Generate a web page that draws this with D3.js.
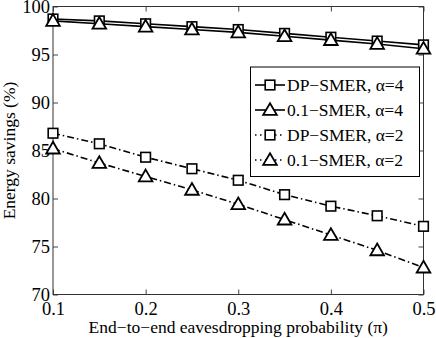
<!DOCTYPE html>
<html>
<head>
<meta charset="utf-8">
<script src="https://cdn.jsdelivr.net/npm/d3@7"></script>
<style>
  body { margin: 0; background: #fff; }
  text { font-family: "Liberation Serif", "Times New Roman", serif; fill: #000; }
</style>
</head>
<body>
<div id="chart-area"></div>
<script>
// eavesdropping probability values
const probs = [0.1, 0.15, 0.2, 0.25, 0.3, 0.35, 0.4, 0.45, 0.5];
const xTicks = [0.1, 0.2, 0.3, 0.4, 0.5];
const yTicks = [70, 75, 80, 85, 90, 95, 100];

// energy savings (%)
const dpSmerA4  = [98.7, 98.5, 98.2, 97.9, 97.6, 97.2, 96.8, 96.4, 96.0];
const smerA4    = [98.5, 98.2, 97.9, 97.6, 97.3, 96.9, 96.5, 96.1, 95.6];
const dpSmerA2  = [86.8, 85.7, 84.3, 83.1, 81.9, 80.4, 79.2, 78.2, 77.1];
const smerA2    = [85.2, 83.7, 82.3, 80.9, 79.4, 77.8, 76.2, 74.6, 72.8];

const seriesNames = ["DP\u2212SMER, \u03b1=4", "0.1\u2212SMER, \u03b1=4", "DP\u2212SMER, \u03b1=2", "0.1\u2212SMER, \u03b1=2"];

const series = [
  { name: seriesNames[0], values: dpSmerA4, marker: "square",   dash: null },
  { name: seriesNames[1], values: smerA4,   marker: "triangle", dash: null },
  { name: seriesNames[2], values: dpSmerA2, marker: "square",   dash: "7,3,1.5,3" },
  { name: seriesNames[3], values: smerA2,   marker: "triangle", dash: "7,3,1.5,3" }
];

const width = 436, height = 338;
const m = { left: 53, right: 423.5, top: 6.5, bottom: 294.5 };

const svg = d3.select("#chart-area").append("svg")
  .attr("width", width)
  .attr("height", height);

const x = d3.scaleLinear().domain([0.1, 0.5]).range([m.left, m.right]);
const y = d3.scaleLinear().domain([70, 100]).range([m.bottom, m.top]);

// axes with inward ticks
svg.append("g")
  .attr("transform", `translate(0,${m.bottom})`)
  .call(d3.axisBottom(x).tickValues(xTicks).tickSizeInner(-5).tickSizeOuter(0).tickPadding(7).tickFormat(d3.format(".1f")))
  .call(g => g.selectAll("text").attr("font-size", 18.5).attr("dy", "0.72em"));

svg.append("g")
  .attr("transform", `translate(${m.left},0)`)
  .call(d3.axisLeft(y).tickValues(yTicks).tickSizeInner(-5).tickSizeOuter(0).tickPadding(3))
  .call(g => g.selectAll("text").attr("font-size", 18.5));

// mirror ticks on top and right
svg.append("g")
  .attr("transform", `translate(0,${m.top})`)
  .call(d3.axisTop(x).tickValues(xTicks).tickSizeInner(-5).tickSizeOuter(0).tickFormat(""));
svg.append("g")
  .attr("transform", `translate(${m.right},0)`)
  .call(d3.axisRight(y).tickValues(yTicks).tickSizeInner(-5).tickSizeOuter(0).tickFormat(""));

svg.selectAll(".domain").remove();
svg.selectAll(".tick line").attr("stroke", "#444");

svg.append("rect")
  .attr("x", m.left).attr("y", m.top)
  .attr("width", m.right - m.left).attr("height", m.bottom - m.top)
  .attr("fill", "none").attr("stroke", "#333").attr("stroke-width", 1);

// lines
const line = d3.line()
  .x((d, i) => x(probs[i]))
  .y(d => y(d));

function drawMarker(g, type, cx, cy) {
  if (type === "square") {
    g.append("rect")
      .attr("x", cx - 4.8).attr("y", cy - 4.8)
      .attr("width", 9.6).attr("height", 9.6)
      .attr("fill", "#fff").attr("stroke", "#000").attr("stroke-width", 1.6);
  } else {
    const r = 6.8;
    g.append("path")
      .attr("d", `M${cx},${cy - r} L${cx + r},${cy + r * 0.72} L${cx - r},${cy + r * 0.72}Z`)
      .attr("fill", "#fff").attr("stroke", "#000").attr("stroke-width", 1.8);
  }
}

series.forEach(s => {
  svg.append("path")
    .datum(s.values)
    .attr("d", line)
    .attr("fill", "none")
    .attr("stroke", "#000")
    .attr("stroke-width", 1.6)
    .attr("stroke-dasharray", s.dash);
});

series.forEach(s => {
  const g = svg.append("g");
  s.values.forEach((v, i) => drawMarker(g, s.marker, x(probs[i]), y(v)));
});

// legend
const legend = svg.append("g");
legend.append("rect")
  .attr("x", 250.5).attr("y", 67)
  .attr("width", 169).attr("height", 109.5)
  .attr("fill", "#fff").attr("stroke", "#000").attr("stroke-width", 1);

series.forEach((s, i) => {
  const cy = 85 + i * 25;
  legend.append("line")
    .attr("x1", 255).attr("x2", 285)
    .attr("y1", cy).attr("y2", cy)
    .attr("stroke", "#000").attr("stroke-width", 1.6)
    .attr("stroke-dasharray", s.dash ? "1.5,3.5" : null);
  drawMarker(legend, s.marker, 270, cy);
  legend.append("text")
    .attr("x", 287).attr("y", cy + 6)
    .attr("font-size", 17.5)
    .text(s.name);
});

// axis labels
svg.append("text")
  .attr("x", (m.left + m.right) / 2)
  .attr("y", 333)
  .attr("text-anchor", "middle")
  .attr("font-size", 17.5)
  .text("End\u2212to\u2212end eavesdropping probability (\u03c0)");

svg.append("text")
  .attr("transform", `translate(14.5,${(m.top + m.bottom) / 2}) rotate(-90)`)
  .attr("text-anchor", "middle")
  .attr("font-size", 17.5)
  .text("Energy savings (%)");
</script>
</body>
</html>
